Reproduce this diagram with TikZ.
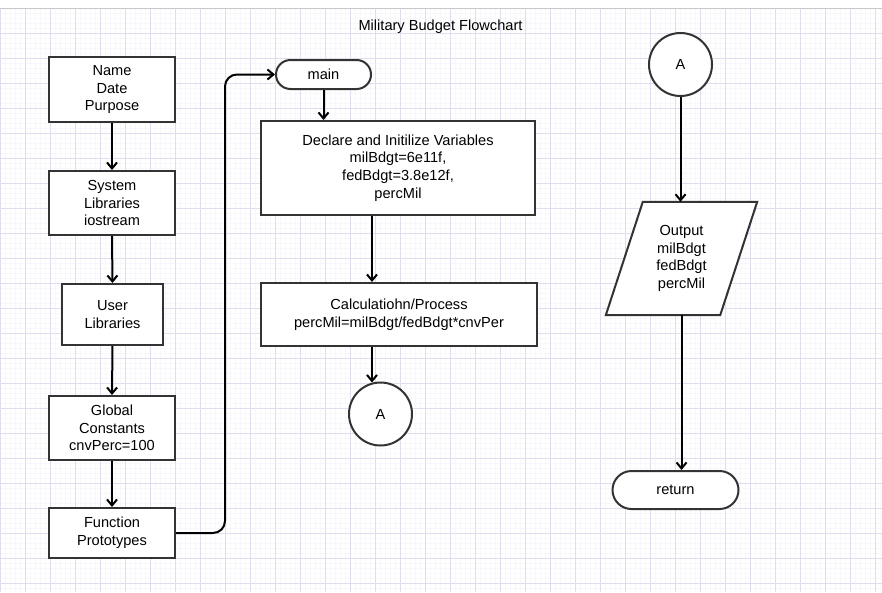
\documentclass[tikz,border=0pt]{standalone}
\usepackage{fontspec}
\setmainfont{Liberation Sans}
\usetikzlibrary{arrows.meta,calc}
\definecolor{gridmaj}{RGB}{222,222,238}
\definecolor{gridmin}{RGB}{248,248,252}
\definecolor{boxline}{RGB}{51,51,51}
\tikzset{
  txt/.style={font=\fontsize{14.6}{17.6}\selectfont, align=center, inner sep=0pt},
  procbox/.style={txt, draw=boxline, line width=2pt, fill=white},
  term/.style={procbox},
  conn/.style={txt, draw=boxline, line width=2pt, fill=white, circle, minimum size=63pt},
  arr/.style={draw=black, line width=2pt, -{Straight Barb[length=6pt,width=10pt,line width=2pt]}},
}
\begin{document}
\begin{tikzpicture}[x=1pt,y=-1pt]
\useasboundingbox (0,0) rectangle (882,592);
\fill[white] (0,0) rectangle (882,592);
% grid
\foreach \x in {0.5,5.5,...,882} \draw[gridmin, line width=0.6pt] (\x,8) -- (\x,592);
\foreach \y in {13,18,...,592} \draw[gridmin, line width=0.6pt] (0,\y) -- (882,\y);
\foreach \x in {0.5,25.5,...,882} \draw[gridmaj, line width=1pt] (\x,8) -- (\x,592);
\foreach \y in {33,58,...,592} \draw[gridmaj, line width=1pt] (0,\y) -- (882,\y);
\draw[black!22, line width=1pt] (0,8) -- (882,8);

% title
\node[txt] (title) at (440.5,27) {Military Budget Flowchart};

% left column
\node[procbox, minimum width=126pt, minimum height=65pt] (hdr) at (112,89.5) {Name\\Date\\Purpose};
\node[procbox, minimum width=126pt, minimum height=64pt] (sys) at (112,203) {System\\Libraries\\iostream};
\node[procbox, minimum width=101pt, minimum height=61pt] (usr) at (112.5,314.5) {User\\Libraries};
\node[procbox, minimum width=126pt, minimum height=64pt] (glb) at (112,428) {Global\\Constants\\cnvPerc=100};
\node[procbox, minimum width=126pt, minimum height=50pt] (fp) at (112,533) {Function\\Prototypes};

\draw[arr] (hdr.south) -- (sys.north);
\draw[arr] (sys.south) -- (usr.north);
\draw[arr] (usr.south) -- (glb.north);
\draw[arr] (glb.south) -- (fp.north);

% middle column
\node[term, rounded corners=14.5pt, minimum width=95pt, minimum height=29pt] (main) at (323.5,74.5) {main};
\node[procbox, minimum width=274pt, minimum height=94pt] (decl) at (398,168) {Declare and Initilize Variables\\milBdgt=6e11f,\\fedBdgt=3.8e12f,\\percMil};
\node[procbox, minimum width=276pt, minimum height=63pt] (calc) at (399,314.5) {Calculatiohn/Process\\percMil=milBdgt/fedBdgt*cnvPer};
\node[conn] (ca) at (380.5,414) {A};

\coordinate (bend) at (225,74.5);
\draw[arr, rounded corners=12pt] (fp.east) -| (bend) -- (main.west);
\draw[arr] (main.south) -- (main.south |- decl.north);
\draw[arr] ([xshift=-26pt]decl.south) -- ([xshift=-26pt]decl.south |- calc.north);
\draw[arr] ([xshift=-27pt]calc.south) -- ([xshift=-27pt,yshift=-1pt]calc.south |- ca.north);

% right column
\node[conn] (cb) at (680.5,64.5) {A};
\node[txt, minimum width=114pt, minimum height=113pt] (out) at (681.5,258.5) {};
\draw[boxline, line width=2pt, line join=miter, fill=white]
  ($(out.north west)+(18.5,0)$) -- ($(out.north east)+(18.5,0)$) --
  ($(out.south east)+(-18.5,0)$) -- ($(out.south west)+(-18.5,0)$) -- cycle;
\node[txt] at (out.center) {Output\\milBdgt\\fedBdgt\\percMil};
\node[term, rounded corners=19pt, minimum width=126pt, minimum height=38pt] (ret) at (675.5,490) {return};

\draw[arr] (cb.south) -- (cb.south |- out.north);
\draw[arr] (out.south) -- (out.south |- ret.north);
\end{tikzpicture}
\end{document}
